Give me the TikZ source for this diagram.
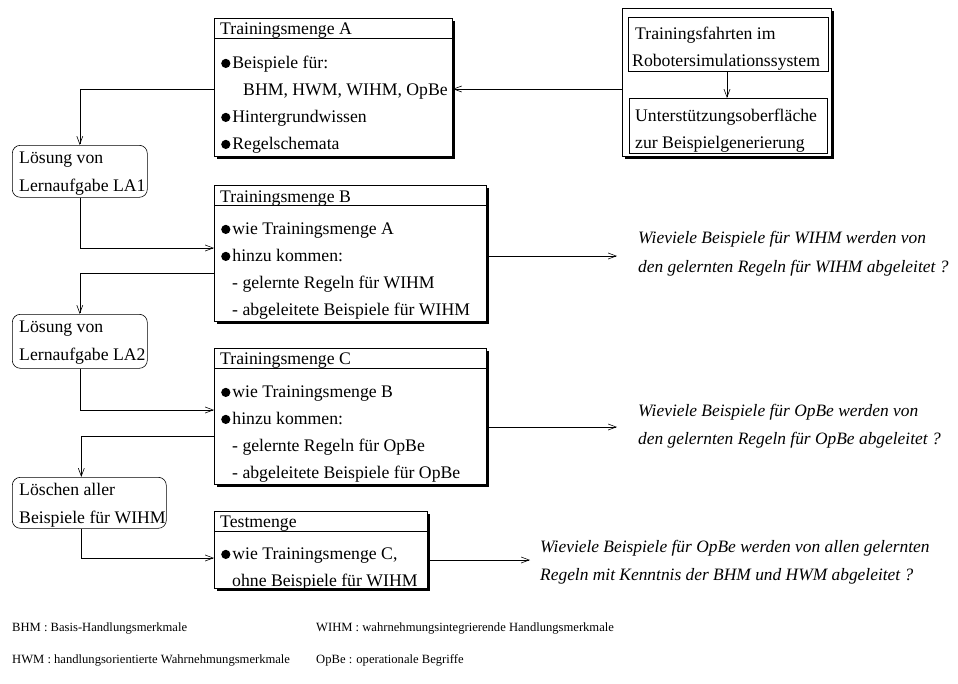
\documentclass[tikz,border=0pt]{standalone}
\usepackage{fontspec}
\setmainfont{Liberation Serif}
\usetikzlibrary{arrows.meta,shadows,calc}
\newcommand\msize{\fontsize{17.7}{20}\selectfont}
\newcommand\qsize{\fontsize{17.4}{20}\selectfont}
\newcommand\fsize{\fontsize{12.6}{14}\selectfont}
% filled round bullet sitting on the baseline
\newcommand\bul{\tikz[baseline=0pt]\fill (4.6pt,4.6pt) circle[radius=4.6pt];\kern2pt}

\tikzset{
  setbox/.style={draw, line width=0.8pt, fill=white, anchor=north west, inner sep=0pt,
    drop shadow={shadow xshift=3pt, shadow yshift=-3pt, fill=black, opacity=1}},
  taskbox/.style={draw, line width=0.6pt, rounded corners=8pt, anchor=north west, inner sep=0pt},
  plainbox/.style={draw, line width=0.6pt, anchor=north west, inner sep=0pt},
  txt/.style={anchor=base west, inner sep=0pt, font=\msize},
  qtxt/.style={anchor=base west, inner sep=0pt, font=\qsize\itshape},
  ftxt/.style={anchor=base west, inner sep=0pt, font=\fsize},
  arr/.style={line width=0.6pt, -{Straight Barb[length=8pt,width=6pt]}},
  hline/.style={line width=0.6pt}
}

\begin{document}
\begin{tikzpicture}[x=1pt, y=-1pt]
\useasboundingbox (0,0) rectangle (958,683);

% ---- Trainingsmenge A ----
\node[setbox, minimum width=238pt, minimum height=138pt] (A) at (214,18) {};
\draw[hline] ($(A.north west)+(0,20)$) -- ($(A.north east)+(0,20)$);
\node[txt] (a0) at (220,34) {Trainingsmenge A};
\node[txt] (a1) at (221,68) {\bul Beispiele für:};
\node[txt] (a2) at (243,95) {BHM, HWM, WIHM, OpBe};
\node[txt] (a3) at (221,122) {\bul Hintergrundwissen};
\node[txt] (a4) at (221,149) {\bul Regelschemata};

% ---- example generation ----
\node[setbox, minimum width=209pt, minimum height=148pt] (R) at (622,8) {};
\node[plainbox, minimum width=200pt, minimum height=54pt] (T1) at (628,17) {};
\node[plainbox, line width=0.8pt, minimum width=198pt, minimum height=55pt] (T2) at (629,98) {};
\node[txt] (t1a) at (635,39) {Trainingsfahrten im};
\node[txt] (t1b) at (632,66) {Robotersimulationssystem};
\node[txt] (t2a) at (635,121) {Unterstützungsoberfläche};
\node[txt] (t2b) at (635,148) {zur Beispielgenerierung};
\draw[arr] (T1.south -| 727,0) -- (T2.north -| 727,0);

% ---- Trainingsmenge B ----
\node[setbox, minimum width=272pt, minimum height=136pt] (B) at (214,185) {};
\draw[hline] ($(B.north west)+(0,20)$) -- ($(B.north east)+(0,20)$);
\node[txt] (b0) at (220,202) {Trainingsmenge B};
\node[txt] (b1) at (221,234) {\bul wie Trainingsmenge A};
\node[txt] (b2) at (221,261) {\bul hinzu kommen:};
\node[txt] (b3) at (232,288) {- gelernte Regeln für WIHM};
\node[txt] (b4) at (232,315) {- abgeleitete Beispiele für WIHM};

% ---- Trainingsmenge C ----
\node[setbox, minimum width=272pt, minimum height=136pt] (C) at (214,348) {};
\draw[hline] ($(C.north west)+(0,20)$) -- ($(C.north east)+(0,20)$);
\node[txt] (c0) at (220,364) {Trainingsmenge C};
\node[txt] (c1) at (221,397) {\bul wie Trainingsmenge B};
\node[txt] (c2) at (221,424) {\bul hinzu kommen:};
\node[txt] (c3) at (232,451) {- gelernte Regeln für OpBe};
\node[txt] (c4) at (232,478) {- abgeleitete Beispiele für OpBe};

% ---- Testmenge ----
\node[setbox, minimum width=213pt, minimum height=77pt] (D) at (214,511) {};
\draw[hline] ($(D.north west)+(0,20)$) -- ($(D.north east)+(0,20)$);
\node[txt] (d0) at (220,527) {Testmenge};
\node[txt] (d1) at (221,559) {\bul wie Trainingsmenge C,};
\node[txt] (d2) at (232,586) {ohne Beispiele für WIHM};

% ---- learning tasks ----
\node[taskbox, minimum width=135pt, minimum height=52pt] (L1) at (12,145) {};
\node[txt] (l1a) at (19,163) {Lösung von};
\node[txt] (l1b) at (19,191) {Lernaufgabe LA1};
\node[taskbox, minimum width=135pt, minimum height=54pt] (L2) at (12,314) {};
\node[txt] (l2a) at (19,332) {Lösung von};
\node[txt] (l2b) at (19,360) {Lernaufgabe LA2};
\node[taskbox, minimum width=154pt, minimum height=51pt] (L3) at (12,477) {};
\node[txt] (l3a) at (19,495) {Löschen aller};
\node[txt] (l3b) at (19,523) {Beispiele für WIHM};

% ---- questions ----
\coordinate (q1) at (617,256);
\coordinate (q2) at (617,427);
\coordinate (q3) at (530,560);
\node[qtxt] (qa1) at (638,243) {Wieviele Beispiele für WIHM werden von};
\node[qtxt] (qa2) at (638,272) {den gelernten Regeln für WIHM abgeleitet ?};
\node[qtxt] (qb1) at (638,416) {Wieviele Beispiele für OpBe werden von};
\node[qtxt] (qb2) at (638,444) {den gelernten Regeln für OpBe abgeleitet ?};
\node[qtxt] (qc1) at (540,552) {Wieviele Beispiele für OpBe werden von allen gelernten};
\node[qtxt] (qc2) at (540,580) {Regeln mit Kenntnis der BHM und HWM abgeleitet ?};

% ---- connectors ----
\draw[arr] (R.west |- 0,89) -- (A.east |- 0,89);
\draw[arr] (A.west |- 0,89) -| (L1.north);
\draw[arr] (L1.south) |- (B.west |- 0,248);
\draw[arr] (B.west |- 0,273) -| (L2.north);
\draw[arr] (L2.south) |- (C.west |- 0,410);
\draw[arr] (C.west |- 0,436) -| ([xshift=-8pt]L3.north);
\draw[arr] ([xshift=-8pt]L3.south) |- (D.west |- 0,558);
\draw[arr] (B.east |- q1) -- (q1);
\draw[arr] (C.east |- q2) -- (q2);
\draw[arr] (D.east |- q3) -- (q3);

% ---- abbreviations ----
\node[ftxt] (f1) at (12,631) {BHM : Basis-Handlungsmerkmale};
\node[ftxt] (f2) at (316,631) {WIHM : wahrnehmungsintegrierende Handlungsmerkmale};
\node[ftxt] (f3) at (12,663) {HWM : handlungsorientierte Wahrnehmungsmerkmale};
\node[ftxt] (f4) at (316,663) {OpBe : operationale Begriffe};
\end{tikzpicture}
\end{document}
